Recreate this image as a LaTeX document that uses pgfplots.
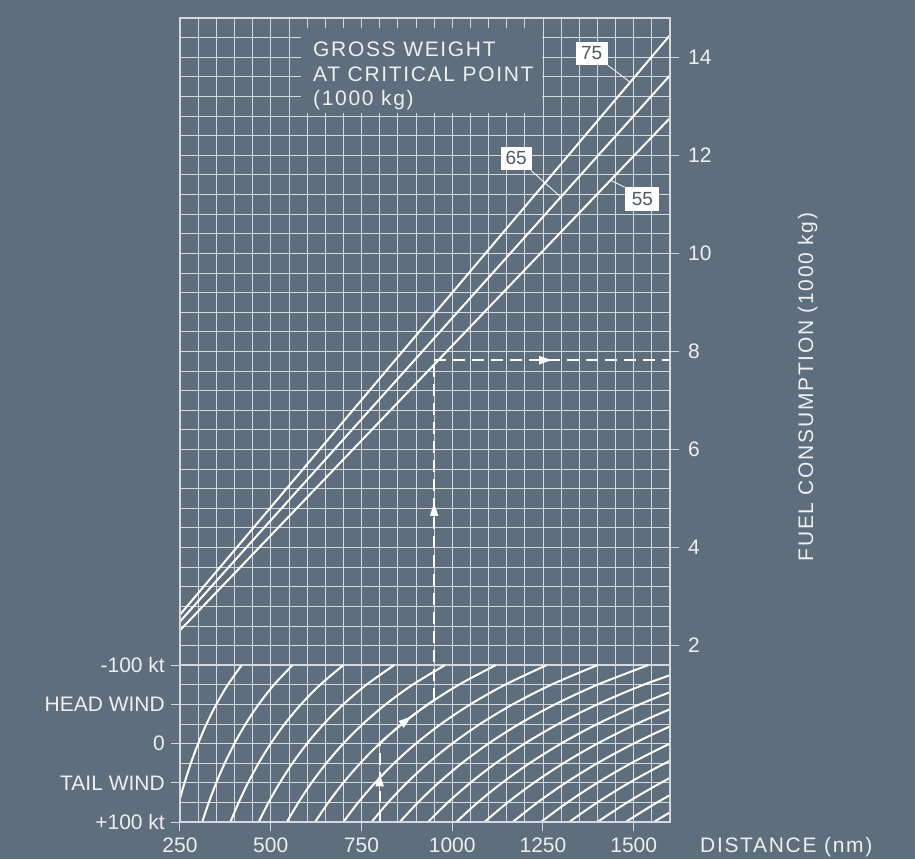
\documentclass[border=0pt]{standalone}
\usepackage{pgfplots}
\pgfplotsset{compat=1.18}
\usepackage{pgfplotstable}
\usepackage{fontspec}
\setmainfont{Liberation Sans}
\newfontfamily\spaced[LetterSpace=8]{Liberation Sans}
\usetikzlibrary{decorations.markings,arrows.meta}
\definecolor{bg}{HTML}{5E6E7D}
\definecolor{gridc}{HTML}{D3D9DF}
\definecolor{txt}{HTML}{EDEFF1}
\definecolor{boxtxt}{HTML}{4F5962}
\newcommand\lbl{\fontsize{21}{25}\selectfont}

% wind guide curves: air distance for each ground distance G at wind levels
% y: -100 kt (head) = 1.6 ... +100 kt (tail) = -1.6
\pgfplotstableread{
y g300 g400 g500 g600 g700 g800 g900 g1000 g1100 g1200 g1300 g1400 g1500 g1600 g1700 g1800 g1900 g2000
1.6 420 560 700 840 980 1120 1260 1400 1540 1680 1820 1960 2100 2240 2380 2520 2660 2800
1.2 381.8 509.1 636.4 763.6 890.9 1018.2 1145.5 1272.7 1400 1527.3 1654.5 1781.8 1909.1 2036.4 2163.6 2290.9 2418.2 2545.5
0.8 350 466.7 583.3 700 816.7 933.3 1050 1166.7 1283.3 1400 1516.7 1633.3 1750 1866.7 1983.3 2100 2216.7 2333.3
0.4 323.1 430.8 538.5 646.2 753.8 861.5 969.2 1076.9 1184.6 1292.3 1400 1507.7 1615.4 1723.1 1830.8 1938.5 2046.2 2153.8
0 300 400 500 600 700 800 900 1000 1100 1200 1300 1400 1500 1600 1700 1800 1900 2000
-0.4 280 373.3 466.7 560 653.3 746.7 840 933.3 1026.7 1120 1213.3 1306.7 1400 1493.3 1586.7 1680 1773.3 1866.7
-0.8 262.5 350 437.5 525 612.5 700 787.5 875 962.5 1050 1137.5 1225 1312.5 1400 1487.5 1575 1662.5 1750
-1.2 247.1 329.4 411.8 494.1 576.5 658.8 741.2 823.5 905.9 988.2 1070.6 1152.9 1235.3 1317.6 1400 1482.4 1564.7 1647.1
-1.6 233.3 311.1 388.9 466.7 544.4 622.2 700 777.8 855.6 933.3 1011.1 1088.9 1166.7 1244.4 1322.2 1400 1477.8 1555.6
}\windtab

\pgfplotstableread{
x y75 y65 y55
250 2.63 2.49 2.31
1600 14.45 13.63 12.76
}\fueltab

\pgfplotstableread{
x y
800 0
823.5 0.16
848.5 0.32
875.0 0.48
903.2 0.64
933.3 0.80
950.0 0.885
}\examplecurve

\tikzset{
  midarrow/.style={postaction={decorate,decoration={markings,mark=at position #1 with {\arrow{Triangle[length=13pt,width=8pt]}}}}},
  example/.style={white, line width=2.1pt, dash pattern=on 12pt off 7pt},
}

\begin{document}
\begin{tikzpicture}
\fill[bg] (-180pt,-37pt) rectangle (735pt,822pt);

\begin{axis}[at={(0pt,0pt)}, anchor=south west, scale only axis, width=490pt, height=804pt,
  xmin=250, xmax=1600, ymin=-1.6, ymax=14.8,
  xtick={250,300,...,1600}, ytick={-1.6,-1.2,...,14.6},
  xticklabels={}, yticklabels={}, major tick length=0pt,
  grid=major, major grid style={draw=gridc, line width=0.75pt},
  axis line style={draw=gridc, line width=1.4pt},
  clip=true]
  % blank area behind the title
  \fill[bg] (axis cs:584,12.86) rectangle (axis cs:1247,14.6);
  % emphasised wind lines
  \draw[gridc, line width=1.5pt] (axis cs:250,0) -- (axis cs:1600,0);
  \draw[gridc, line width=1.5pt] (axis cs:250,1.6) -- (axis cs:1600,1.6);
  % wind guide curves
  \pgfplotsinvokeforeach{300,400,500,600,700,800,900,1000,1100,1200,1300,1400,1500,1600,1700,1800,1900,2000}{
    \addplot[white, line width=2pt, smooth] table[x=g#1, y=y]{\windtab};
  }
  % fuel lines
  \addplot[white, line width=2pt] table[x=x, y=y75]{\fueltab};
  \addplot[white, line width=2pt] table[x=x, y=y65]{\fueltab};
  \addplot[white, line width=2pt] table[x=x, y=y55]{\fueltab};
  % example
  \addplot[example, midarrow=0.62] coordinates {(800,-1.6) (800,0)};
  \addplot[example, smooth, midarrow=0.6] table[x=x,y=y]{\examplecurve};
  \addplot[example, midarrow=0.58] coordinates {(950,0.885) (950,7.82)};
  \addplot[example, midarrow=0.5] coordinates {(950,7.82) (1600,7.82)};
  % leaders
  \draw[white, line width=0.8pt] (axis cs:1428,13.84) -- (axis cs:1490,13.49);
  \draw[white, line width=0.8pt] (axis cs:1217,11.69) -- (axis cs:1299,11.15);
  \draw[white, line width=0.8pt] (axis cs:1475,11.35) -- (axis cs:1436,11.49);
  \node[fill=white, text=boxtxt, minimum width=32pt, minimum height=23pt, inner sep=0pt, font=\fontsize{19}{19}\selectfont] at (axis cs:1384,14.08) {75};
  \node[fill=white, text=boxtxt, minimum width=31pt, minimum height=23pt, inner sep=0pt, font=\fontsize{19}{19}\selectfont] at (axis cs:1176,11.94) {65};
  \node[fill=white, text=boxtxt, minimum width=34pt, minimum height=24pt, inner sep=0pt, font=\fontsize{19}{19}\selectfont] at (axis cs:1524,11.10) {55};
\end{axis}

\begin{axis}[at={(0pt,0pt)}, anchor=south west, scale only axis, width=490pt, height=804pt,
  xmin=250, xmax=1600, ymin=-1.6, ymax=14.8,
  axis x line*=bottom, axis y line*=right,
  axis line style={draw=gridc, line width=1.4pt, -},
  xtick={250,500,750,1000,1250,1500}, xticklabels={250,500,750,1000,1250,1500},
  ytick={2,4,6,8,10,12,14}, yticklabels={2,4,6,8,10,12,14},
  tick align=outside, major tick length=9pt, minor tick num=0,
  tick style={draw=gridc, line width=1pt},
  ticklabel style={font=\lbl, text=txt, inner sep=0pt},
  xticklabel style={yshift=-7pt},
  yticklabel style={xshift=9pt}]
\end{axis}

\begin{axis}[at={(0pt,0pt)}, anchor=south west, scale only axis, width=490pt, height=804pt,
  xmin=250, xmax=1600, ymin=-1.6, ymax=14.8,
  axis x line=none, axis y line*=left,
  axis line style={draw=gridc, line width=1.4pt, -},
  ytick={-1.6,-0.8,0,0.8,1.6}, yticklabels={+100 kt,TAIL WIND,0,HEAD WIND,-100 kt},
  tick align=outside, major tick length=9pt, minor tick num=0,
  tick style={draw=gridc, line width=1pt},
  ticklabel style={font=\lbl, text=txt, inner sep=0pt},
  yticklabel style={xshift=-6pt}]
\end{axis}

\node[anchor=base west, inner sep=0pt, text=txt, font=\spaced\lbl] at (520pt,-30pt) {DISTANCE (nm)};
\node[anchor=base, rotate=90, inner sep=0pt, text=txt, font=\spaced\lbl] at (633pt,435pt) {FUEL CONSUMPTION (1000 kg)};
\node[anchor=base west, inner sep=0pt, text=txt, font=\spaced\lbl] at (133pt,765pt) {GROSS WEIGHT};
\node[anchor=base west, inner sep=0pt, text=txt, font=\spaced\lbl] at (133pt,740pt) {AT CRITICAL POINT};
\node[anchor=base west, inner sep=0pt, text=txt, font=\spaced\lbl] at (133pt,716pt) {(1000 kg)};

\pgfresetboundingbox
\useasboundingbox (-180pt,-37pt) rectangle (735pt,822pt);
\end{tikzpicture}
\end{document}
